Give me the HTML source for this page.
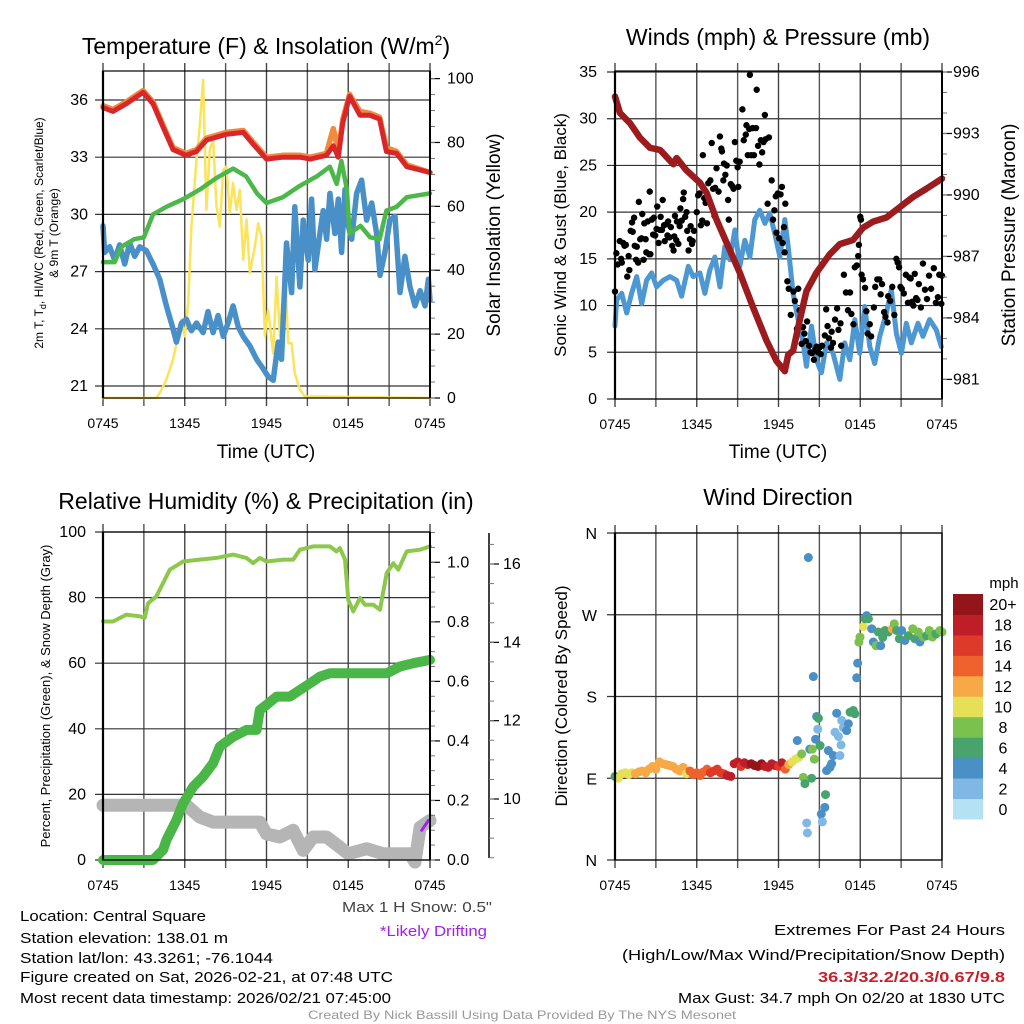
<!DOCTYPE html>
<html><head><meta charset="utf-8"><style>
body{margin:0;background:#fff}
svg{display:block;font-family:"Liberation Sans",sans-serif}
</style></head><body>
<svg id="c" width="1024" height="1024" viewBox="0 0 1024 1024" xmlns="http://www.w3.org/2000/svg">
<rect width="1024" height="1024" fill="#fff"/>
<g id="bg"></g>
<g id="marks"></g>
<g id="fg"></g>
<text x="266" y="54" font-size="23" text-anchor="middle">Temperature (F) &amp; Insolation (W/m<tspan font-size="14" dy="-9">2</tspan><tspan dy="9">)</tspan></text>
<text x="778" y="45" font-size="23" text-anchor="middle">Winds (mph) &amp; Pressure (mb)</text>
<text x="266" y="509" font-size="23" text-anchor="middle">Relative Humidity (%) &amp; Precipitation (in)</text>
<text x="778" y="505" font-size="23" text-anchor="middle">Wind Direction</text>
<text x="266" y="458" font-size="19" text-anchor="middle">Time (UTC)</text>
<text x="778" y="458" font-size="19" text-anchor="middle">Time (UTC)</text>
<text transform="translate(43,233) rotate(-90)" font-size="12" text-anchor="middle">2m T, T<tspan font-size="9" dy="3">d</tspan><tspan dy="-3">, HI/WC (Red, Green, Scarlet/Blue)</tspan></text>
<text transform="translate(58,233) rotate(-90)" font-size="12" text-anchor="middle">&amp; 9m T (Orange)</text>
<text transform="translate(500,235) rotate(-90)" font-size="19" text-anchor="middle">Solar Insolation (Yellow)</text>
<text transform="translate(566,235) rotate(-90)" font-size="17" text-anchor="middle">Sonic Wind &amp; Gust (Blue, Black)</text>
<text transform="translate(1015,235) rotate(-90)" font-size="19" text-anchor="middle">Station Pressure (Maroon)</text>
<text transform="translate(50,696) rotate(-90)" font-size="13" text-anchor="middle">Percent, Precipitation (Green), &amp; Snow Depth (Gray)</text>
<text transform="translate(567,696) rotate(-90)" font-size="17" text-anchor="middle">Direction (Colored By Speed)</text>
<text x="492" y="912" font-size="15" text-anchor="end" fill="#444" textLength="150" lengthAdjust="spacingAndGlyphs">Max 1 H Snow: 0.5"</text>
<text x="487" y="936" font-size="15" text-anchor="end" fill="#a020f0" textLength="107" lengthAdjust="spacingAndGlyphs">*Likely Drifting</text>
<g font-size="15">
<text x="20" y="921" textLength="186" lengthAdjust="spacingAndGlyphs">Location: Central Square</text>
<text x="20" y="943" textLength="208" lengthAdjust="spacingAndGlyphs">Station elevation: 138.01 m</text>
<text x="20" y="963" textLength="253" lengthAdjust="spacingAndGlyphs">Station lat/lon: 43.3261; -76.1044</text>
<text x="20" y="982" textLength="373" lengthAdjust="spacingAndGlyphs">Figure created on Sat, 2026-02-21, at 07:48 UTC</text>
<text x="20" y="1003" textLength="371" lengthAdjust="spacingAndGlyphs">Most recent data timestamp: 2026/02/21 07:45:00</text>
</g>
<g font-size="15" text-anchor="end">
<text x="1005" y="935" textLength="231" lengthAdjust="spacingAndGlyphs">Extremes For Past 24 Hours</text>
<text x="1005" y="960" textLength="383" lengthAdjust="spacingAndGlyphs">(High/Low/Max Wind/Precipitation/Snow Depth)</text>
<text x="1005" y="982" font-weight="bold" fill="#c8202a" textLength="187" lengthAdjust="spacingAndGlyphs">36.3/32.2/20.3/0.67/9.8</text>
<text x="1005" y="1003" textLength="327" lengthAdjust="spacingAndGlyphs">Max Gust: 34.7 mph On 02/20 at 1830 UTC</text>
</g>
<text x="522" y="1019" font-size="12" fill="#999" text-anchor="middle" textLength="428" lengthAdjust="spacingAndGlyphs">Created By Nick Bassill Using Data Provided By The NYS Mesonet</text>
</svg>
<script>
// ---- data (hours since 0745 UTC) ----
const xTickLabels=["0745","1345","1945","0145","0745"];
const tempTicks=[21,24,27,30,33,36];
const insolTicks=[0,20,40,60,80,100];
const windTicks=[0,5,10,15,20,25,30,35];
const presTicks=[981,984,987,990,993,996];
const rhTicks=[0,20,40,60,80,100];
const precipTicks=[0.0,0.2,0.4,0.6,0.8,1.0];
const snowTicks=[10,12,14,16];
const dirLabels=["N","E","S","W","N"];
const dirTicks=[0,90,180,270,360];
const speedBins=["0","2","4","6","8","10","12","14","16","18","20+"];
const speedColors=["#b5e1f5","#7fb8e2","#4a8fc6","#48a46c","#7bc14d","#e6df58","#f7a947","#ef612d","#dd3a2a","#bf1e28","#931519"];

const tempTimes=[0,0.73,1.7,2.94,3.67,4.4,5.14,6.1,6.86,7.6,9.06,10.3,11.0,12.0,13.2,14.45,15.2,16.4,16.9,17.27,17.6,18.1,18.86,19.6,20.3,20.8,21.55,22.3,24];
const tempValues=[35.6,35.4,35.8,36.4,35.8,34.6,33.4,33.1,33.3,33.9,34.2,34.3,33.7,32.9,33.0,33.0,32.9,33.1,33.6,33.0,34.8,36.2,35.2,35.2,35.0,33.3,33.2,32.5,32.2];
const temp9mValues=[35.7,35.5,35.9,36.5,35.9,34.7,33.5,33.2,33.4,34.0,34.3,34.4,33.8,33.0,33.1,33.1,33.0,33.2,34.5,33.3,35.0,36.3,35.4,35.3,35.1,33.5,33.3,32.6,32.2];
const hiwcTimes=[0,0.86,1.35,2.3,3.0,3.67,4.65,5.9,7.1,8.3,9.55,10.5,11.3,12.0,13.2,14.45,15.7,16.65,17.15,17.5,17.9,18.1,18.9,19.6,20.3,20.8,21.55,22.3,24];
const hiwcValues=[27.5,27.5,28.3,28.7,28.8,30.0,30.4,30.8,31.3,31.9,32.4,32.0,31.1,30.6,30.9,31.5,32.0,32.5,31.6,32.8,31.3,29.0,29.4,28.8,28.7,30.2,30.4,30.9,31.1];
const dewTimes=[0,0.12,0.49,0.86,1.22,1.59,1.96,2.33,2.69,3.18,3.67,4.16,4.65,5.14,5.39,5.76,6.12,6.49,6.86,7.35,7.71,8.08,8.45,8.82,9.18,9.55,9.92,10.29,10.78,11.27,11.76,12.12,12.49,12.86,13.1,13.47,13.84,14.08,14.45,14.69,15.06,15.31,15.55,15.92,16.16,16.41,16.65,17.02,17.27,17.51,17.76,18.0,18.25,18.61,18.98,19.35,19.72,20.08,20.33,20.69,21.06,21.43,21.8,22.16,22.53,22.9,23.27,23.63,23.88,24];
const dewValues=[29.4,28.0,28.3,27.6,28.4,27.4,28.5,27.8,28.3,28.1,27.4,26.6,25.2,24.0,23.3,24.3,24.5,23.9,24.3,23.8,24.9,23.8,24.7,23.6,24.3,25.2,24.1,23.6,23.1,22.4,21.9,21.5,21.3,23.3,22.4,28.5,25.9,30.4,26.2,29.7,27.6,30.8,27.1,29.0,30.2,28.7,31.1,29.0,30.8,28.0,31.3,29.4,28.7,31.1,31.8,29.7,30.6,29.0,26.8,28.0,29.7,29.9,25.9,27.8,26.2,25.2,26.0,25.2,26.6,25.5];
const insolTimes=[0,3.92,4.16,4.65,5.14,5.51,5.76,6.0,6.25,6.49,6.86,7.1,7.35,7.59,7.84,8.08,8.33,8.57,8.82,9.06,9.31,9.55,9.8,10.04,10.29,10.53,10.78,11.14,11.39,11.63,11.88,12.12,12.49,12.74,12.98,13.35,13.59,13.84,14.08,14.45,14.82,24];
const insolValues=[0,0,1.5,5.7,12,19.3,24.5,19.3,29.7,53.7,74.6,85,99.6,58.9,77.7,80.9,60,53.7,71.4,72.5,57.9,67.3,58.9,65.2,43.3,55.9,39.1,47.4,54.7,50.5,19.3,27.6,14,38,19.3,41.2,17.2,17.2,7.8,2.6,0.5,0];

const presTimes=[0,0.37,1.1,1.83,2.57,3.3,4.28,4.52,5.25,6.23,6.72,7.45,8.43,9.16,10.14,11.12,11.85,12.46,12.71,13.07,13.56,14.05,14.78,15.76,16.5,17.47,18.21,18.94,19.92,20.89,21.87,22.85,24];
const presValues=[994.8,994.0,993.5,992.8,992.3,992.2,991.5,991.8,991.2,990.6,990.1,988.8,987.3,986.2,984.5,982.9,981.9,981.4,982.2,982.4,983.9,985.3,986.2,987.1,987.6,987.8,988.4,988.7,988.9,989.4,989.9,990.3,990.8];
const windTimes=[0,0.12,0.49,0.86,1.22,1.59,1.96,2.32,2.69,3.05,3.54,4.03,4.52,4.89,5.38,5.74,6.23,6.6,6.96,7.33,7.7,8.06,8.43,8.8,9.16,9.53,9.9,10.26,10.63,11.0,11.36,11.73,12.1,12.46,12.71,13.07,13.44,13.81,14.05,14.42,14.78,15.15,15.52,16.0,16.5,16.86,17.23,17.6,17.96,18.33,18.7,19.06,19.43,19.92,20.28,20.65,21.02,21.38,21.75,22.24,22.6,23.09,23.58,23.95];
const windValues=[7.8,10.6,11.3,9.2,11.3,13.1,10.2,12.7,13.5,12.0,12.7,13.1,12.7,11.0,14.2,13.1,13.5,11.3,13.8,15.2,12.0,16.3,14.9,18.1,14.2,17.0,15.2,19.2,20.2,18.8,19.9,17.7,15.2,19.2,16.3,11.3,8.5,6.0,3.5,7.8,4.2,2.8,6.0,4.9,2.1,6.0,4.2,8.5,4.9,9.9,5.6,3.8,6.7,9.2,11.7,7.0,4.9,8.1,6.0,8.1,6.7,8.5,7.4,5.6];
const gustTimes=[0,0.1,0.2,0.35,0.45,0.5,0.6,0.7,0.8,0.9,1.0,1.05,1.15,1.25,1.3,1.4,1.45,1.55,1.6,1.7,1.75,1.85,1.95,2.0,2.1,2.15,2.25,2.3,2.4,2.5,2.55,2.6,2.7,2.8,2.85,2.95,3.05,3.1,3.2,3.3,3.35,3.45,3.5,3.6,3.65,3.75,3.85,3.9,4.0,4.1,4.2,4.3,4.35,4.4,4.5,4.55,4.65,4.75,4.8,4.9,5.0,5.05,5.15,5.25,5.3,5.4,5.5,5.55,5.65,5.7,5.8,5.9,6.0,6.1,6.2,6.3,6.4,6.45,6.55,6.65,6.75,6.85,7.0,7.1,7.2,7.3,7.35,7.45,7.6,7.7,7.8,7.85,7.95,8.0,8.1,8.2,8.3,8.35,8.5,8.6,8.7,8.8,8.9,9.0,9.05,9.15,9.35,9.45,9.6,9.65,9.75,9.85,9.9,10.0,10.1,10.2,10.35,10.4,10.5,10.6,10.7,10.8,10.9,11.0,11.05,11.2,11.3,11.5,11.6,11.7,11.8,11.85,11.95,12.05,12.15,12.25,12.3,12.4,12.45,12.5,12.65,12.75,12.9,13.1,13.2,13.35,13.45,13.55,13.7,13.8,13.9,14.0,14.1,14.25,14.35,14.45,14.6,14.7,14.8,14.9,15.0,15.1,15.2,15.4,15.5,15.6,15.7,15.85,15.9,16.0,16.15,16.3,16.4,16.55,16.6,16.8,16.95,17.1,17.25,17.35,17.5,17.6,17.75,17.85,17.9,18.0,18.05,18.1,18.2,18.35,18.45,18.55,18.7,18.8,19.0,19.1,19.25,19.4,19.5,19.6,19.75,19.85,20.0,20.05,20.2,20.35,20.5,20.65,20.75,20.85,20.95,21.05,21.2,21.35,21.5,21.6,21.7,21.8,21.9,22.0,22.1,22.2,22.3,22.45,22.6,22.75,22.9,23.05,23.2,23.4,23.55,23.7,23.8,23.95,24.0];
const gustValues=[11.5,15.6,14.4,16.9,15.0,14.6,16.7,16.4,16.5,13.1,15.3,13.8,18,18.9,17.9,19.4,16.4,14.9,16.3,14.6,21.1,17.1,17.2,19.8,14.9,18.8,17.1,15.7,19.0,15.5,22.2,15.5,19.2,17.6,19.4,17.5,18.2,20.6,16.7,18.1,19.5,18.1,21.3,18.6,16.9,18.7,17.5,19.0,17.3,18.4,16.4,15.9,17.4,19.6,17.0,19.0,16.6,18.5,20.4,19.1,21.4,22.1,19.5,20.0,18.0,15.9,17.1,18.5,16.6,16.9,18.0,23.6,20.0,21.8,22.0,18.6,19.1,26.1,21.5,21.0,18.8,23.1,23.4,27.4,22.5,19.6,22.6,24.7,22.2,28.1,26.8,26.5,23.4,25.2,24.0,25.0,21.3,19.2,23.0,22.8,22.5,27.5,25.5,24.8,22.7,25.4,31.0,27.7,28.3,29.3,26.1,28.9,34.7,26.1,29.0,26.1,29.0,33.1,27.1,25.1,27.7,26.4,27.5,30.4,27.8,20.9,28.0,23.4,19.2,20.2,21.7,17.8,22.0,17.2,21.9,22.7,16.7,18.4,15.7,20.9,12.6,11.8,9.0,11.5,10.5,7.5,11.8,9.5,5.9,7.7,7.0,6.2,8.3,5.7,5.0,4.9,4.2,5.3,5.6,5.0,5.5,4.8,5.7,6.8,9.6,7.8,6.5,5.5,7.2,6.0,8.5,9.7,7.4,8.1,5.7,13.3,11.4,9.5,11.4,9.1,8.0,14.1,14.3,15.3,16.5,19.5,19.2,13.3,12.8,11.9,9.4,7.0,8.0,6.7,9.8,12.0,12.8,12.8,11.2,12.3,9.3,8.8,8.2,11.0,10.5,12.0,9.0,15.0,14.6,14.1,12.0,11.8,11.3,13.3,10.3,13.0,12.9,10.4,10.0,13.4,10.8,10.6,12.3,9.8,14.5,11.7,10.7,13.2,11.8,14.0,10.3,10.9,13.3,10.2,13.2];

const rhTimes=[0,0.73,1.71,2.69,3.06,3.31,3.92,4.9,5.88,7.1,8.33,9.55,10.53,11.02,11.51,12.0,13.23,13.96,14.45,15.43,16.65,17.14,17.39,17.76,18.0,18.37,18.86,19.23,19.84,20.33,20.82,21.31,21.67,22.29,23.27,24];
const rhValues=[72.7,72.7,74.8,74.3,73.8,78.3,80.4,88.5,91.0,91.6,92.1,93.1,92.1,90.5,92.1,91.0,91.6,91.6,94.6,95.6,95.6,94.1,95.1,91.6,79.3,75.8,79.9,77.8,77.8,76.3,87.5,90.5,88.5,94.1,94.6,95.6];
const precipTimes=[0,3.67,4.41,4.65,5.39,5.88,6.61,7.35,8.08,8.57,9.55,10.53,11.27,11.51,12.0,12.74,13.72,14.45,15.18,15.92,16.65,18.12,20.82,21.8,22.78,24];
const precipValues=[0,0,0.034,0.067,0.134,0.19,0.246,0.28,0.325,0.381,0.414,0.437,0.437,0.504,0.521,0.549,0.549,0.571,0.593,0.616,0.627,0.627,0.627,0.65,0.661,0.672];
const snowTimes=[0,6.12,7.1,8.08,11.51,12.0,12.98,13.96,14.69,15.43,16.41,17.39,18.0,19.35,20.57,22.53,22.9,23.27,24];
const snowValues=[9.84,9.84,9.54,9.41,9.41,9.11,9.03,9.2,8.69,9.03,9.03,8.77,8.6,8.73,8.6,8.6,8.39,9.28,9.45];
const driftTimes=[23.39,23.88];
const driftValues=[9.2,9.45];

const dirTimes=[0,0.25,0.5,0.75,1.0,1.25,1.5,1.75,2.0,2.25,2.5,2.75,3.0,3.25,3.5,3.75,4.0,4.25,4.5,4.75,5.0,5.25,5.5,5.75,6.0,6.25,6.5,6.75,7.0,7.25,7.5,7.75,8.0,8.25,8.5,8.75,9.0,9.25,9.5,9.75,10.0,10.25,10.5,10.75,11.0,11.25,11.5,11.75,12.0,12.25,12.5,12.75,13.0,13.25,13.5,13.38,13.7,13.82,13.94,14.19,14.07,14.12,14.3,14.43,14.48,14.56,14.63,14.72,14.8,14.88,14.93,15.05,15.14,15.22,15.4,15.45,15.53,15.66,15.78,15.9,16.02,16.15,16.27,16.51,16.59,16.64,16.4,16.76,17.0,17.13,17.25,17.49,17.6,17.74,17.81,17.9,17.98,18.23,18.35,18.47,18.6,18.84,18.96,19.16,19.33,19.5,19.65,19.82,20.06,20.35,20.5,20.67,20.87,21.04,21.28,21.53,21.85,22.0,22.26,22.38,22.63,22.87,23.07,23.3,23.56,23.85,24];
const dirValues=[92,90,95,96,94,96,95,97,98,96,100,103,100,108,106,105,104,103,100,98,102,95,98,94,96,93,97,100,96,98,100,96,95,93,92,106,108,103,107,105,106,104,103,106,103,102,106,104,103,107,100,105,108,111,113,131.5,116.8,91,84,333,40.8,29.8,122,90,122,202,111,133,158,144,156,126,50.7,42,58,72,98.4,120.5,102,106,115,140.7,161.6,115,126.7,153.6,136,146,142.5,150,162.7,164.6,161,200.6,216.7,239.9,245.4,257,265.6,269,265.6,254.6,240,236,251,236,245,252.7,251,254.6,260,252.7,243.6,252.7,241.7,247,254.6,243.6,251,240,245.4,247,252.7,245.4,249,252.7,251];
const dirSpeeds=[6,10,10,10,10,10,11,12,12,12,12,12,12,12,12,12,12,12,12,12,12,10,14,14,14,13,14,14,16,16,16,16,16,18,18,18,18,16,18,18,20,20,20,20,18,18,18,18,16,18,14,12,10,10,10,4,7,7,6,4,2,2,4,6,7,4,8,4,4,2,6,6,4,2,4,6,4,4,4,4,4,2,4,2,2,2,2,2,4,4,6,6,6,4,4,8,8,10,6,4,6,4,4,8,6,4,6,6,6,12,8,6,6,4,4,6,8,6,8,4,8,6,8,8,6,8,8];

// ---- helpers ----
const NS="http://www.w3.org/2000/svg";
const bg=document.getElementById('bg'),marks=document.getElementById('marks'),fg=document.getElementById('fg');
function mk(tag,attrs,parent){const e=document.createElementNS(NS,tag);for(const k in attrs)e.setAttribute(k,attrs[k]);parent.appendChild(e);return e;}
function txt(s,x,y,size,anchor,parent){const t=mk('text',{x:x,y:y,'font-size':size,'text-anchor':anchor},parent);t.textContent=s;return t;}
function xScale(x0,x1){return h=>x0+h/24*(x1-x0);}
function yScale(v0,v1,py0,py1){return v=>py0+(v-v0)/(v1-v0)*(py1-py0);}
function poly(times,vals,xs,ys,color,w,name){
  const p=mk('polyline',{points:times.map((t,i)=>xs(t).toFixed(1)+','+ys(vals[i]).toFixed(1)).join(' '),fill:'none',stroke:color,'stroke-width':w,'stroke-linejoin':'round','stroke-linecap':'round'},marks);
  
  
  return p;
}
function frame(x0,x1,y0,y1,name){
  const g=mk('g',{},bg);
  
  
  for(let i=0;i<=8;i++){const x=x0+i*(x1-x0)/8;mk('line',{x1:x,x2:x,y1:y0-8,y2:y1+8,stroke:i%2?'#555':'#444','stroke-width':1.4},g);}
  mk('rect',{x:x0,y:y0,width:x1-x0,height:y1-y0,fill:'none',stroke:'#000','stroke-width':1.2},fg);
  mk('line',{x1:x0,x2:x0,y1:y0,y2:y1,stroke:'#000','stroke-width':2.2},fg);
  const lg=mk('g',{'font-size':14},fg);
  
  
  xTickLabels.forEach((l,i)=>txt(l,x0+i*(x1-x0)/4,y1+30,14,'middle',lg));
  return g;
}
function hgrid(ticks,ys,x0,x1,g){ticks.forEach(v=>mk('line',{x1:x0-8,x2:x1,y1:ys(v),y2:ys(v),stroke:'#333','stroke-width':1.2},g));}
function labelsLeft(ticks,ys,x,size,fmt,name){const g=mk('g',{},fg);ticks.forEach((v,i)=>txt(fmt?fmt(v,i):String(v),x,ys(v)+5,size,'end',g));}
function labelsRight(ticks,ys,xAxis,x,size,fmt,name,minorStep,vmin,vmax){
  const g=mk('g',{},fg);
  ticks.forEach(v=>{mk('line',{x1:xAxis,x2:xAxis+10,y1:ys(v),y2:ys(v),stroke:'#000','stroke-width':1.2},g);txt(fmt?fmt(v):String(v),x,ys(v)+5,size,'start',g);});
  if(minorStep){for(let v=vmin;v<=vmax+1e-9;v+=minorStep){mk('line',{x1:xAxis,x2:xAxis+5,y1:ys(v),y2:ys(v),stroke:'#777','stroke-width':1},g);}}
}

// ---- panel 1: temperature ----
{const xs=xScale(103,430);const yT=yScale(36,21,100,386);const yI=yScale(0,100,398,78.6);
 const g=frame(103,430,71,398,'temperature-panel');hgrid(tempTicks,yT,103,430,g);
 labelsLeft(tempTicks,yT,88,16,null,'temp-y-tick-labels');
 labelsRight(insolTicks,yI,430,447,16,null,'insolation-tick-labels',5,0,100);
 mk('line',{x1:430,x2:430,y1:71,y2:398,stroke:'#000','stroke-width':2},fg);
 poly(insolTimes,insolValues,xs,yI,'#fbe35a',2.5,'insolation-line');
 poly(dewTimes,dewValues,xs,yT,'#4a90c8',5.5,'dewpoint-line');
 poly(hiwcTimes,hiwcValues,xs,yT,'#4cb84a',4.5,'heat-index-wind-chill-line');
 poly(tempTimes,temp9mValues,xs,yT,'#f08a3c',5.5,'temp-9m-line');
 poly(tempTimes,tempValues,xs,yT,'#d9262b',5,'temp-2m-line');
}
// ---- panel 2: winds ----
{const xs=xScale(615,942);const yW=yScale(0,35,399,72);const yP=yScale(996,981,72,379.4);
 const g=frame(615,942,71,399,'winds-panel');hgrid(windTicks,yW,615,942,g);
 labelsLeft(windTicks,yW,597,16,null,'wind-y-tick-labels');
 labelsRight(presTicks,yP,942,953,16,null,'pressure-tick-labels',1,981,996);
 mk('line',{x1:942,x2:942,y1:71,y2:399,stroke:'#000','stroke-width':2},fg);
 poly(windTimes,windValues,xs,yW,'#4d97d2',5,'sonic-wind-line');
 const dg=mk('g',{fill:'#000'},marks);
 
 
 gustTimes.forEach((t,i)=>{const c=mk('circle',{cx:xs(t),cy:yW(gustValues[i]),r:3.2},dg);
   
   });
 poly(presTimes,presValues,xs,yP,'#9b1b1e',6.5,'pressure-line');
}
// ---- panel 3: humidity ----
{const xs=xScale(103,430);const yR=yScale(0,100,860,532);const yPr=yScale(0,1,860,562.3);const yS=yScale(10,16,799,564);
 const g=frame(103,430,532,860,'humidity-panel');hgrid(rhTicks,yR,103,430,g);
 labelsLeft(rhTicks,yR,86,16,null,'rh-y-tick-labels');
 labelsRight(precipTicks,yPr,430,447,16,v=>v.toFixed(1),'precip-tick-labels',0.05,0,1.1);
 mk('line',{x1:430,x2:430,y1:532,y2:860,stroke:'#000','stroke-width':2},fg);
 mk('line',{x1:489,x2:489,y1:533,y2:858,stroke:'#000','stroke-width':1.5},fg);
 labelsRight(snowTicks,yS,489,503,16,null,'snow-depth-tick-labels',0.5,8.5,16.5);
 poly(snowTimes,snowValues,xs,yS,'#b5b5b5',13,'snow-depth-line');
 poly(driftTimes,driftValues,xs,yS,'#a020f0',3,'drifting-snow-segment');
 poly(precipTimes,precipValues,xs,yPr,'#4ab648',10,'precipitation-line');
 poly(rhTimes,rhValues,xs,yR,'#8cc84b',4,'relative-humidity-line');
}
// ---- panel 4: wind direction ----
{const xs=xScale(615,942);const yD=yScale(0,360,860,533);
 const g=frame(615,942,533,860,'wind-direction-panel');hgrid(dirTicks,yD,615,942,g);
 const lg=mk('g',{},fg);
 dirTicks.forEach((v,i)=>txt(dirLabels[i],597,yD(v)+6,16,'end',lg));
 mk('line',{x1:942,x2:942,y1:533,y2:860,stroke:'#000','stroke-width':1.2},fg);
 const dg=mk('g',{},marks);
 
 
 dirTimes.forEach((t,i)=>{const b=Math.min(10,Math.round(dirSpeeds[i]/2));
   const c=mk('circle',{cx:xs(t),cy:yD(dirValues[i]),r:4.5,fill:speedColors[b]},dg);
   
   });
 const cb=mk('g',{},fg);
 
 
 const top=594,bot=819,bh=(bot-top)/speedBins.length;
 speedBins.forEach((l,i)=>{const y=bot-(i+1)*bh;mk('rect',{x:953,y:y,width:30,height:bh+0.5,fill:speedColors[i]},cb);txt(l,1003,y+bh/2+6,16,'middle',cb);});
 txt('mph',1004,588,15,'middle',cb);
}
</script>
</body></html>
